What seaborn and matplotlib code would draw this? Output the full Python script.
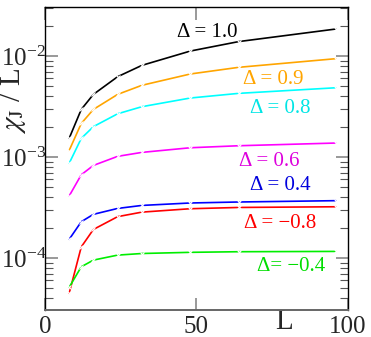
import numpy as np
import pandas as pd
import matplotlib
matplotlib.use('Agg')
import matplotlib.pyplot as plt
import matplotlib.ticker as mticker
import seaborn as sns

# system sizes
L = [8, 12, 16, 24, 32, 48, 64, 96]

# chi_J / L for each anisotropy Delta
chi_10 = [1.53e-3, 2.96e-3, 4.17e-3, 6.24e-3, 8.08e-3, 1.12e-2, 1.39e-2, 1.85e-2]
chi_09 = [1.16e-3, 2.15e-3, 2.96e-3, 4.17e-3, 5.13e-3, 6.64e-3, 7.73e-3, 9.41e-3]
chi_08 = [8.65e-4, 1.53e-3, 2.00e-3, 2.68e-3, 3.15e-3, 3.84e-3, 4.27e-3, 4.85e-3]
chi_06 = [4.11e-4, 6.68e-4, 8.26e-4, 1.016e-3, 1.112e-3, 1.236e-3, 1.294e-3, 1.376e-3]
chi_04 = [1.53e-4, 2.29e-4, 2.71e-4, 3.10e-4, 3.32e-4, 3.51e-4, 3.59e-4, 3.70e-4]
chi_m08 = [4.47e-5, 1.29e-4, 1.92e-4, 2.57e-4, 2.85e-4, 3.08e-4, 3.17e-4, 3.22e-4]
chi_m04 = [5.13e-5, 8.2e-5, 9.55e-5, 1.07e-4, 1.11e-4, 1.14e-4, 1.156e-4, 1.164e-4]

labels = ['Δ = 1.0', 'Δ = 0.9', 'Δ = 0.8', 'Δ = 0.6', 'Δ = 0.4', 'Δ = −0.8', 'Δ= −0.4']
series = [chi_10, chi_09, chi_08, chi_06, chi_04, chi_m08, chi_m04]
colors = ['black', '#ffa500', '#00ffff', '#ff00ff', '#0000ff', '#ff0000', '#00ee00']
text_colors = ['black', '#ffa500', '#00e5e5', '#dd00dd', '#0000dd', '#ff0000', '#00dd00']
# label anchor positions (data coords)
label_x = [53.4, 75.3, 77.6, 74.0, 77.6, 77.6, 81.2]
label_y = [1.69e-2, 5.92e-3, 3.05e-3, 9.12e-4, 5.28e-4, 2.22e-4, 8.34e-5]

sns.set_style('ticks')
plt.rcParams['font.family'] = ['Liberation Serif', 'DejaVu Serif']
plt.rcParams['mathtext.fontset'] = 'stix'

fig = plt.figure(figsize=(3.71, 3.37), dpi=100)
ax = fig.add_axes([0.121, 0.080, 0.817, 0.899])

for vals, c in zip(series, colors):
    df = pd.DataFrame({'L': L, 'chi': vals})
    sns.lineplot(data=df, x='L', y='chi', color=c, marker='x', markersize=3,
                 markeredgewidth=0.8, linewidth=1.2, ax=ax)

for lab, x, y, c in zip(labels, label_x, label_y, text_colors):
    ax.text(x, y, lab, color=c, fontsize=15, ha='center', va='center')

ax.set_yscale('log')
ax.set_xlim(0, 100)
ax.set_ylim(3.06e-5, 3.05e-2)
ax.set_xticks([0, 50, 100])
ax.xaxis.set_minor_locator(mticker.NullLocator())
ax.yaxis.set_major_locator(mticker.LogLocator(base=10, numticks=10))
ax.yaxis.set_minor_locator(mticker.LogLocator(base=10, subs=np.arange(2, 10), numticks=10))
ax.yaxis.set_major_formatter(mticker.LogFormatterSciNotation())
ax.yaxis.set_minor_formatter(mticker.NullFormatter())

ax.tick_params(which='both', direction='in', top=True, right=True, labelsize=18)
ax.tick_params(which='major', length=9, width=1.2, color='#888888')
ax.tick_params(which='minor', length=6, width=0.8, color='#555555')
ax.tick_params(axis='x', pad=4)
ax.tick_params(axis='y', pad=-1)
for s in ax.spines.values():
    s.set_linewidth(1.0)
    s.set_color('black')
ax.spines['bottom'].set_color('#666666')
ax.spines['bottom'].set_linewidth(1.4)

ax.set_xlabel('L', fontsize=21, va='center')
ax.xaxis.set_label_coords(0.79, -0.04)
ax.set_ylabel(r'$\chi_{\mathrm{J}}$ / L', fontsize=21, va='center')
ax.yaxis.set_label_coords(-0.104, 0.69)

fig.savefig('out.png', dpi=100)
